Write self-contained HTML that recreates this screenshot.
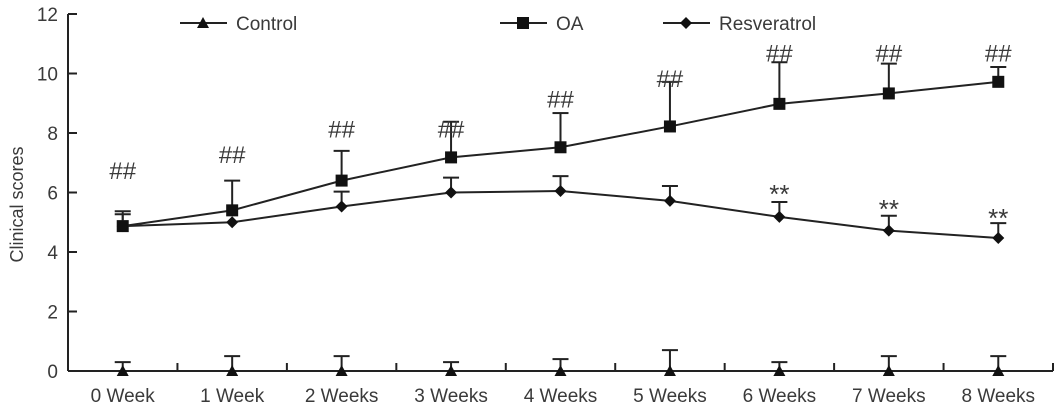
<!DOCTYPE html>
<html><head><meta charset="utf-8"><style>
body{margin:0;background:#fff}
svg{display:block;font-family:"Liberation Sans",Arial,sans-serif}
text{fill:#3a3a3a}
</style></head><body>
<svg id="chart" width="1063" height="410" viewBox="0 0 1063 410"></svg>
<script>
const categories=["0 Week","1 Week","2 Weeks","3 Weeks","4 Weeks","5 Weeks","6 Weeks","7 Weeks","8 Weeks"];
const controlVals=[0,0,0,0,0,0,0,0,0];
const controlErr=[0.3,0.5,0.5,0.3,0.4,0.7,0.3,0.5,0.5];
const oaVals=[4.87,5.4,6.4,7.18,7.52,8.22,8.98,9.33,9.72];
const oaErr=[0.5,1.0,1.0,1.2,1.15,1.5,1.4,1.0,0.5];
const resVals=[4.87,5.0,5.53,6.0,6.05,5.72,5.18,4.72,4.47];
const resErr=[0.4,0,0.5,0.5,0.5,0.5,0.5,0.5,0.5];
const yTicks=[0,2,4,6,8,10,12];
const oaMarks=["##","##","##","##","##","##","##","##","##"];
const oaMarkLevel=[6.45,7.0,7.85,7.85,8.85,9.55,10.4,10.4,10.4];
const resMarks=["","","","","","","**","**","**"];
const resMarkLevel=[0,0,0,0,0,0,5.95,5.45,5.15];

const svg=document.getElementById('chart');
const NS="http://www.w3.org/2000/svg";
const x0=68,x1=1053,y0=371,yTop=14,yMax=12;
const band=(x1-x0)/categories.length;
const xs=i=>x0+band*(i+0.5);
const ys=v=>y0-(y0-yTop)*v/yMax;
function el(t,a,parent){const e=document.createElementNS(NS,t);for(const k in a)e.setAttribute(k,a[k]);(parent||svg).appendChild(e);return e;}
const C="#222";
let ax=el('g',{});


el('line',{x1:x0,y1:yTop,x2:x0,y2:y0,stroke:C,'stroke-width':2},ax);
yTicks.forEach(t=>{
 el('line',{x1:x0,y1:ys(t),x2:x0+9,y2:ys(t),stroke:C,'stroke-width':2},ax);
 const tx=el('text',{x:x0-10,y:ys(t)+7,'text-anchor':'end','font-size':19},ax);tx.textContent=t;
 
 
});
let yt=el('text',{x:0,y:0,transform:`translate(23,${(y0+yTop)/2+12}) rotate(-90)`,'text-anchor':'middle','font-size':18});
yt.textContent="Clinical scores";


let xa=el('g',{});


el('line',{x1:x0,y1:y0,x2:x1,y2:y0,stroke:C,'stroke-width':2},xa);
for(let i=1;i<=categories.length;i++){const x=x0+band*i;el('line',{x1:x,y1:y0,x2:x,y2:y0-8,stroke:C,'stroke-width':2},xa);}
categories.forEach((c,i)=>{const t=el('text',{x:xs(i),y:y0+31,'text-anchor':'middle','font-size':19},xa);t.textContent=c;
 
 });
function marker(type,x,y,g){
 if(type==='tri')el('polygon',{points:`${x},${y-6} ${x-6},${y+5} ${x+6},${y+5}`,fill:'#111'},g);
 else if(type==='sq')el('rect',{x:x-6,y:y-6,width:12,height:12,fill:'#111'},g);
 else el('polygon',{points:`${x},${y-6} ${x+6},${y} ${x},${y+6} ${x-6},${y}`,fill:'#111'},g);
}
function series(name,vals,err,type){
 const g=el('g',{});
 
 
 vals.forEach((v,i)=>{if(err[i]>0){const x=xs(i),yt=ys(v+err[i]);
  el('line',{x1:x,y1:ys(v),x2:x,y2:yt,stroke:C,'stroke-width':2},g);
  el('line',{x1:x-8,y1:yt,x2:x+8,y2:yt,stroke:C,'stroke-width':2},g);}});
 el('polyline',{points:vals.map((v,i)=>xs(i)+','+ys(v)).join(' '),fill:'none',stroke:C,'stroke-width':2},g);
 vals.forEach((v,i)=>{marker(type,xs(i),ys(v),g);});
}
series('control',controlVals,controlErr,'tri');
series('oa',oaVals,oaErr,'sq');
series('resveratrol',resVals,resErr,'dia');
oaMarks.forEach((m,i)=>{if(!m)return;const t=el('text',{x:xs(i),y:ys(oaMarkLevel[i]),'text-anchor':'middle','font-size':24});t.textContent=m;
 
 });
resMarks.forEach((m,i)=>{if(!m)return;const t=el('text',{x:xs(i),y:ys(resMarkLevel[i])+9,'text-anchor':'middle','font-size':26});t.textContent=m;
 
 });
const leg=[["Control",180,'tri'],["OA",500,'sq'],["Resveratrol",663,'dia']];
leg.forEach(([n,x,tp])=>{const g=el('g',{});
 
 
 el('line',{x1:x,y1:23,x2:x+47,y2:23,stroke:C,'stroke-width':2},g);
 marker(tp,x+23,23,g);
 const t=el('text',{x:x+56,y:30,'font-size':19},g);t.textContent=n;});
</script>
</body></html>
